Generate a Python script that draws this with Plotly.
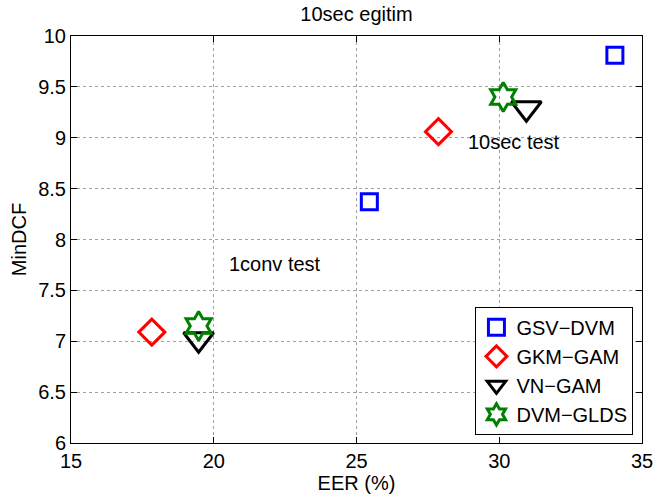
import plotly.graph_objects as go

# EER (%) and MinDCF for each system; first point = 1conv test, second = 10sec test
series_names = ["GSV\u2212DVM", "GKM\u2212GAM", "VN\u2212GAM", "DVM\u2212GLDS"]
eer_gsv_dvm = [25.45, 34.05]
dcf_gsv_dvm = [8.37, 9.81]
eer_gkm_gam = [17.83, 27.87]
dcf_gkm_gam = [7.09, 9.06]
eer_vn_gam = [19.47, 30.95]
dcf_vn_gam = [7.02, 9.29]
eer_dvm_glds = [19.47, 30.14]
dcf_dvm_glds = [7.15, 9.40]

x_ticks = [15, 20, 25, 30, 35]
y_ticks = [6, 6.5, 7, 7.5, 8, 8.5, 9, 9.5, 10]

FONT = "Liberation Sans, Arial, Helvetica, sans-serif"
FS = 20

styles = [
    dict(symbol="square-open", color="#0000ff", size=16),
    dict(symbol="diamond-open", color="#ff0000", size=20),
    dict(symbol="triangle-down-open", color="#000000", size=26),
    dict(symbol="hexagram-open", color="#008000", size=22),
]
xs = [eer_gsv_dvm, eer_gkm_gam, eer_vn_gam, eer_dvm_glds]
ys = [dcf_gsv_dvm, dcf_gkm_gam, dcf_vn_gam, dcf_dvm_glds]

fig = go.Figure()
for name, x, y, st in zip(series_names, xs, ys, styles):
    fig.add_trace(go.Scatter(
        x=x, y=y, mode="markers", name=name,
        marker=dict(symbol=st["symbol"], size=st["size"], color=st["color"],
                    line=dict(width=3, color=st["color"])),
    ))

fig.add_annotation(x=20.45, y=7.76, text="1conv test", showarrow=False,
                   xanchor="left", yanchor="middle",
                   font=dict(family=FONT, size=FS, color="black"))
fig.add_annotation(x=28.85, y=8.96, text="10sec test", showarrow=False,
                   xanchor="left", yanchor="middle",
                   font=dict(family=FONT, size=FS, color="black"))

axis_common = dict(
    showgrid=True, gridcolor="#a0a0a0", griddash="dot", gridwidth=1,
    showline=True, linecolor="black", linewidth=1, mirror="allticks",
    ticks="inside", ticklen=6, tickcolor="black", zeroline=False,
    tickfont=dict(family=FONT, size=FS, color="black"),
)

fig.update_layout(
    width=665, height=500,
    paper_bgcolor="white", plot_bgcolor="white",
    margin=dict(l=71, r=15, t=36, b=56),
    title=dict(text="10sec egitim", x=0.5, xref="paper", xanchor="center",
               y=0.973, yanchor="middle",
               font=dict(family=FONT, size=FS, color="black")),
    xaxis=dict(range=[15, 35], tickvals=x_ticks, ticktext=[str(v) for v in x_ticks],
               title=dict(text="EER (%)", standoff=2,
                          font=dict(family=FONT, size=FS, color="black")),
               **axis_common),
    yaxis=dict(range=[6, 10], tickvals=y_ticks, ticktext=[f"{v:g}" for v in y_ticks],
               title=dict(text="MinDCF", standoff=6,
                          font=dict(family=FONT, size=FS, color="black")),
               **axis_common),
    legend=dict(x=0.985, y=0.02, xanchor="right", yanchor="bottom",
                bgcolor="white", bordercolor="black", borderwidth=1,
                font=dict(family=FONT, size=FS, color="black"),
                tracegroupgap=0, itemwidth=30),
    showlegend=True,
)

fig.write_html("out.html")
